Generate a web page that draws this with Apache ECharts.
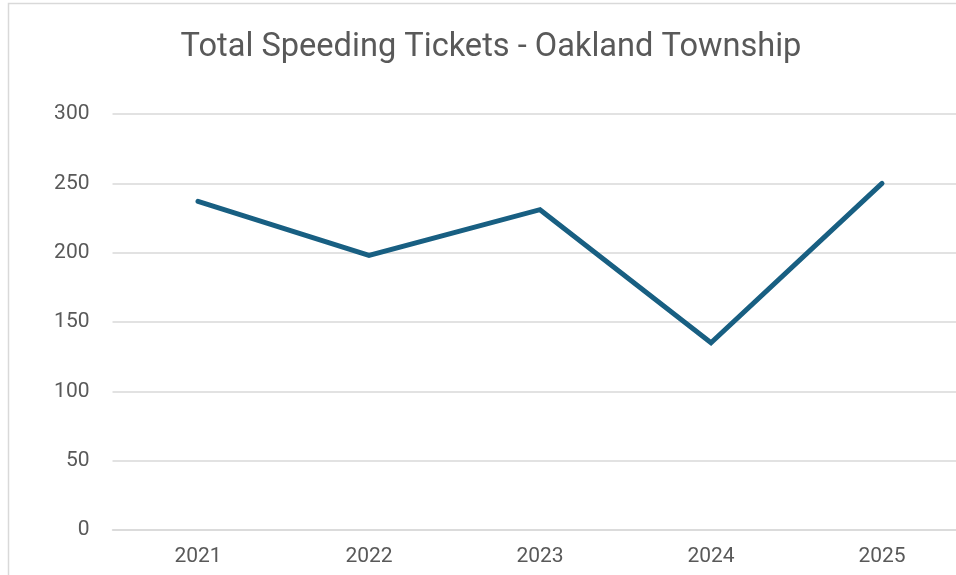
<!DOCTYPE html>
<html>
<head>
<meta charset="utf-8">
<script src="https://cdn.jsdelivr.net/npm/echarts@6/dist/echarts.min.js"></script>
<style>
    html, body { margin: 0; padding: 0; background: #fff; }
    #chart { width: 956px; height: 575px; }
</style>
</head>
<body>
<div id="chart"></div>
<script>
// data
const years = ['2021', '2022', '2023', '2024', '2025'];
const tickets = [237, 198, 231, 135, 250];
const chartTitle = 'Total Speeding Tickets - Oakland Township';

const chart = echarts.init(document.getElementById('chart'));

const option = {
    backgroundColor: '#fff',
    animation: false,
    title: {
        text: chartTitle,
        left: 486,
        textAlign: 'center',
        top: 26,
        textStyle: {
            fontFamily: 'Roboto',
            fontWeight: 'normal',
            fontSize: 32.6,
            color: '#595959'
        }
    },
    // frame of the chart area
    graphic: [
        {
            type: 'rect',
            shape: { x: 8.5, y: 3.5, width: 1000, height: 600 },
            style: { fill: 'none', stroke: '#d9d9d9', lineWidth: 1.5 },
            silent: true
        }
    ],
    grid: {
        left: 112.5,
        width: 855,
        top: 114,
        bottom: 45,
        containLabel: false,
        outerBoundsMode: 'none'
    },
    xAxis: {
        type: 'category',
        data: years,
        boundaryGap: true,
        axisLine: { show: true, lineStyle: { color: '#d9d9d9', width: 1.5 } },
        axisTick: { show: false },
        axisLabel: {
            margin: 16,
            fontFamily: 'Roboto',
            fontSize: 21,
            color: '#595959'
        }
    },
    yAxis: {
        type: 'value',
        min: 0,
        max: 300,
        interval: 50,
        axisLine: { show: false },
        axisTick: { show: false },
        splitLine: { lineStyle: { color: '#d9d9d9', width: 1.5 } },
        axisLabel: {
            margin: 23,
            fontFamily: 'Roboto',
            fontSize: 21,
            color: '#595959'
        }
    },
    series: [
        {
            name: 'Tickets',
            type: 'line',
            data: tickets,
            symbol: 'none',
            lineStyle: { color: '#185f82', width: 5, cap: 'round', join: 'miter' }
        }
    ]
};

chart.setOption(option);
</script>
</body>
</html>
